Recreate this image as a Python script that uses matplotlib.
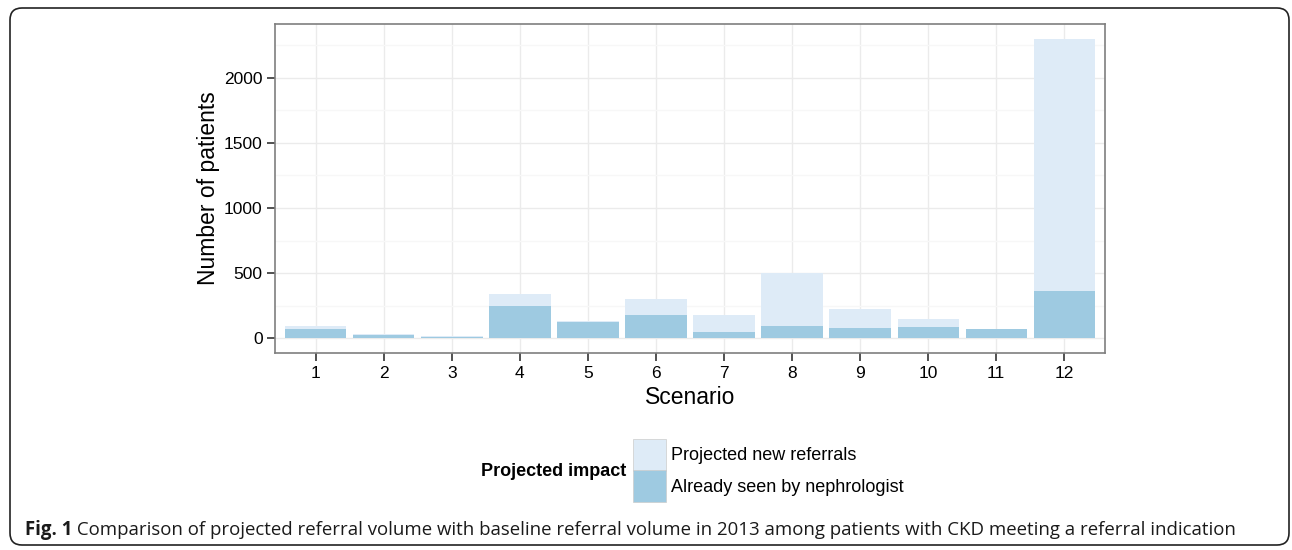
import matplotlib
matplotlib.use("Agg")
import matplotlib.pyplot as plt
import matplotlib.patches as mpatches
from matplotlib.transforms import IdentityTransform
from matplotlib.ticker import MultipleLocator
import numpy as np

scenarios = ["1", "2", "3", "4", "5", "6", "7", "8", "9", "10", "11", "12"]
already_seen = [69, 20, 10, 250, 120, 174, 46, 92, 77, 87, 70, 365]
new_referrals = [23, 8, 8, 92, 10, 125, 130, 406, 145, 59, 2, 1935]
yticks = [0, 500, 1000, 1500, 2000]
legend_title = "Projected impact"
legend_labels = ["Projected new referrals", "Already seen by nephrologist"]
xlabel = "Scenario"
ylabel = "Number of patients"
caption_bold = "Fig. 1"
caption_rest = " Comparison of projected referral volume with baseline referral volume in 2013 among patients with CKD meeting a referral indication"

light = "#deebf7"
dark = "#9ecae1"

plt.rcParams['font.family'] = ['Liberation Sans', 'DejaVu Sans']

fig = plt.figure(figsize=(12.92, 5.5), dpi=100)
ax = fig.add_axes([275/1292, 1-353/550, (1105-275)/1292, (353-24)/550])

x = np.arange(1, len(scenarios) + 1)
ax.bar(x, already_seen, width=0.9, color=dark, zorder=3)
ax.bar(x, new_referrals, width=0.9, bottom=already_seen, color=light, zorder=3)

total_max = max(a + n for a, n in zip(already_seen, new_referrals))
ax.set_xlim(0.4, len(scenarios) + 0.6)
ax.set_ylim(-0.05 * total_max, total_max * 1.05)
ax.set_xticks(x)
ax.set_xticklabels(scenarios)
ax.set_yticks(yticks)
ax.set_yticklabels([str(v) for v in yticks])
ax.yaxis.set_minor_locator(MultipleLocator(250))

ax.grid(True, which='major', color='#ebebeb', linewidth=1.0, zorder=0)
ax.grid(True, which='minor', axis='y', color='#f7f7f7', linewidth=1.0, zorder=0)
ax.tick_params(axis='both', which='major', labelsize=12.5, length=6, width=1.2, color='#333333', pad=3)
ax.tick_params(axis='y', which='minor', length=0)
for s in ax.spines.values():
    s.set_color('#7f7f7f')
    s.set_linewidth(1.2)

ax.set_xlabel(xlabel, fontsize=16.5, labelpad=4)
ax.set_ylabel(ylabel, fontsize=16.5, labelpad=3)

# Legend
handles = [mpatches.Patch(facecolor=light, edgecolor='#cccccc', linewidth=0.5),
           mpatches.Patch(facecolor=dark, edgecolor='#cccccc', linewidth=0.5)]
fig.text(626/1292, 1-472/550, legend_title, fontsize=13, fontweight='bold', ha='right', va='center')
leg = fig.legend(handles, legend_labels, loc='center left', bbox_to_anchor=(633/1292, 1-470.5/550),
                 frameon=False, fontsize=13, handlelength=1.8, handleheight=2.3,
                 handletextpad=0.3, labelspacing=0.0, borderaxespad=0, borderpad=0)

# Caption
fig.canvas.draw()
r = fig.canvas.get_renderer()
t1 = fig.text(25/1292, 1-530/550, caption_bold, fontsize=13.45, fontweight='bold',
              family=['Open Sans', 'DejaVu Sans'], va='center', ha='left', color='#1a1a1a')
bb = t1.get_window_extent(renderer=r)
fig.text(bb.x1/1292, 1-530/550, caption_rest, fontsize=13.45,
         family=['Open Sans', 'DejaVu Sans'], va='center', ha='left', color='#1a1a1a')

# Rounded outer border
border = mpatches.FancyBboxPatch((10, 5), 1279, 537, boxstyle="round,pad=0,rounding_size=12",
                                 transform=IdentityTransform(), facecolor='none',
                                 edgecolor='#222222', linewidth=1.2)
fig.patches.append(border)

fig.savefig("out.png", dpi=100)
